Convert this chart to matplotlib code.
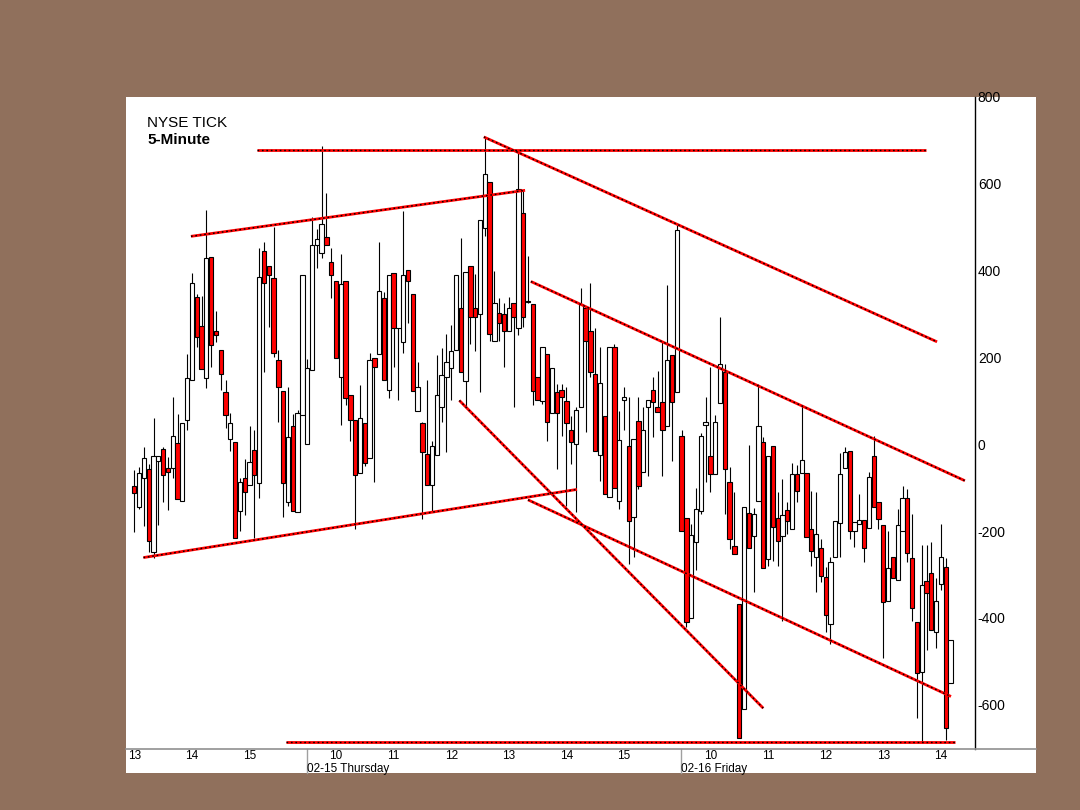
import matplotlib
matplotlib.use('Agg')
import matplotlib.pyplot as plt
from matplotlib.patches import Rectangle
from matplotlib.lines import Line2D
import numpy as np

# ---- data: 5-minute NYSE TICK bars (Wed 13:00 -> Fri ~14:10) ----
opens = [
    -97, -145, -78, -57, -248, -39, -11, -55, -55, 2, -131, 55, 149, 340, 272, 152, 432, 262,
    218, 120, 11, 5, -154, -78, -94, -14, -90, 446, 411, 384, 195, 122, -133, 41, -156, 67,
    0, 170, 460, 441, 478, 421, 375, 154, 375, 113, 55, -67, 48, -32, 198, 209, 338, 126,
    395, 267, 235, 402, 347, 76, 48, -23, -94, -25, 85, 156, 175, 218, 313, 145, 411, 315,
    299, 499, 605, 239, 303, 299, 262, 326, 267, 533, 329, 324, 156, 99, 209, 72, 120, 124,
    99, 32, 0, 87, 313, 260, 163, -25, 64, -122, 225, -131, 103, -5, -168, 53, -64, 85,
    124, 85, 97, 41, 205, 120,
    18, -170, -400, -225, -153, 44, -28, -69, 94, 166, -87, -234, -368, -611, -159, -211, -131, 5,
    -264, -5, -170, -211, -152, -195, -69, -67, -67, -195, -260, -239, -306, -414, -260, -182, -55, -16,
    -200, -184, -175, -193, -28, -133, -186, -361, -260, -313, -200, -124, -262, -409, -524, -316, -296, -433,
    -321, -283, -550,
]
highs = [
    -60, -53, -7, -46, 60, -28, -7, -30, 108, 69, 48, 207, 395, 347, 342, 540, 432, 308,
    218, 149, 71, 5, -78, -34, 41, 32, 453, 467, 411, 501, 218, 122, 133, 69, 80, 389,
    196, 524, 497, 687, 579, 453, 375, 439, 375, 113, 55, 136, 48, 211, 198, 467, 350, 391,
    395, 269, 538, 402, 347, 189, 51, 149, 7, 205, 221, 253, 274, 391, 476, 398, 411, 393,
    517, 708, 605, 400, 338, 326, 340, 326, 676, 586, 434, 324, 156, 223, 209, 176, 138, 138,
    131, 64, 87, 361, 313, 372, 267, 225, 64, 225, 232, 76, 131, 108, 11, 108, 85, 103,
    154, 168, 239, 366, 205, 506,
    34, -170, -184, -100, 25, 110, 177, 67, 294, 184, -53, -110, -368, -145, -2, -147, 138, 16,
    -28, -5, -110, -80, -133, -44, -48, 90, -67, -108, -110, -218, -283, -260, -177, -21, -7, -16,
    -179, -115, -175, -64, 18, -133, -186, -200, -260, -149, -97, -103, -160, -409, -231, -231, -226, -308,
    -183, -262, -450,
]
lows = [
    -202, -150, -189, -248, -262, -186, -133, -152, -78, -126, -131, 32, 149, 225, 173, 129, 177, 235,
    124, 37, -16, -216, -200, -163, -94, -216, -124, 166, 271, 202, 51, -168, -142, -154, -156, 67,
    0, 170, 405, 430, 460, 338, 198, 44, 90, 7, -195, -67, -50, -32, -87, 209, 149, 106,
    179, 103, 211, 280, 122, 76, -172, -94, -156, -25, 51, -18, 103, 218, 166, 87, 230, 214,
    120, 480, 239, 239, 237, 179, 262, 87, 251, 271, 326, 90, 103, 93, 7, 72, -57, 18,
    -143, -46, -156, 87, 28, 156, -16, -85, -115, -122, -101, -149, 34, -276, -260, -103, -64, -74,
    16, 74, -74, 41, -39, 120,
    -200, -421, -400, -290, -160, -87, -110, -69, 94, -161, -241, -253, -676, -611, -239, -340, -131, -285,
    -280, -269, -280, -407, -207, -195, -133, -67, -214, -280, -340, -317, -432, -460, -260, -260, -55, -218,
    -237, -184, -271, -193, -145, -195, -492, -361, -308, -313, -200, -271, -408, -630, -685, -473, -427, -469,
    -335, -681, -550,
]
closes = [
    -113, -67, -32, -223, -28, -28, -71, -64, 18, -126, 48, 152, 372, 248, 173, 428, 228, 251,
    163, 67, 48, -216, -87, -110, -41, -71, 386, 372, 391, 211, 133, -90, 16, -154, 71, 389,
    175, 460, 474, 508, 460, 391, 198, 370, 106, 55, -71, 60, -44, 193, 179, 352, 149, 389,
    267, 269, 389, 375, 122, 131, -18, -94, -5, 113, 159, 189, 216, 391, 166, 398, 294, 294,
    517, 623, 253, 326, 280, 262, 313, 294, 589, 294, 327, 122, 103, 223, 51, 176, 73, 110,
    48, 5, 80, 322, 237, 166, -16, 140, -115, 225, -101, 9, 108, -177, 11, -97, 34, 103,
    97, 74, 34, 195, 97, 494,
    -200, -409, -209, -148, 20, 51, -69, 51, 186, -57, -218, -253, -676, -145, -239, -161, 41, -285,
    -28, -191, -223, -163, -177, -69, -108, -37, -214, -246, -207, -303, -393, -271, -177, -69, -18, -200,
    -179, -175, -239, -76, -145, -172, -363, -285, -308, -186, -124, -251, -377, -528, -324, -342, -427, -361,
    -259, -654, -450,
]

hour_labels = ['13', '14', '15', '10', '11', '12', '13', '14', '15', '10', '11', '12', '13', '14']
hour_bars = [0, 12, 24, 42, 54, 66, 78, 90, 102, 120, 132, 144, 156, 168]
day_labels = ['02-15 Thursday', '02-16 Friday']
day_bars = [36, 114]
y_ticks = [-600, -400, -200, 0, 200, 400, 600, 800]

# trend lines: (bar0, value0, bar1, value1)
trend_lines = [
    (25.5, 677, 164.9, 677),
    (31.6, -685, 171.0, -685),
    (11.8, 479, 81.4, 585),
    (1.9, -261, 92.2, -104),
    (72.8, 708, 167.2, 236),
    (82.6, 375, 173.0, -84),
    (82.0, -128, 170.1, -581),
    (67.7, 101, 131.0, -608),
]

# ---- figure ----
W, H = 1080, 810
fig = plt.figure(figsize=(10.8, 8.1), dpi=100, facecolor='#90705C')
fig.patches.append(Rectangle((126 / W, 1 - 773 / H), (1036 - 126) / W, (773 - 97) / H,
                             transform=fig.transFigure, facecolor='white',
                             edgecolor='none', zorder=-1))
ax = fig.add_axes([126 / W, 1 - 749 / H, (975 - 126) / W, (749 - 97) / H])
ax.set_facecolor('white')
ax.set_xlim(-1.73, 175.1)
ax.set_ylim(-702, 800)

idx = np.arange(len(opens))
o = np.array(opens, float)
c = np.array(closes, float)
ax.vlines(idx, lows, highs, colors='black', linewidth=0.8, zorder=2)
bottoms = np.minimum(o, c)
heights = np.abs(c - o)
fills = ['#FF0000' if cc < oo else 'white' for oo, cc in zip(o, c)]
ax.bar(idx, heights, bottom=bottoms, width=0.9, color=fills, edgecolor='black',
       linewidth=0.8, zorder=3)

for x0, v0, x1, v1 in trend_lines:
    ax.plot([x0, x1], [v0, v1], color='#FF0000', linewidth=2.0, zorder=4,
            solid_capstyle='butt')
    ax.plot([x0, x1], [v0, v1], color='black', linewidth=1.0, dashes=(1.2, 2.0),
            zorder=5)

# spines
for s in ['top', 'left', 'bottom']:
    ax.spines[s].set_visible(False)
ax.spines['right'].set_color('black')
ax.spines['right'].set_linewidth(1.0)

fig.add_artist(Line2D([126 / W, 1036 / W], [1 - 749 / H, 1 - 749 / H],
                      transform=fig.transFigure, color='#909090', linewidth=1.2))

fnt = 'Liberation Sans'
ax.yaxis.tick_right()
ax.set_yticks(y_ticks)
ax.set_yticklabels([str(v) for v in y_ticks], fontsize=10, family=fnt)
ax.tick_params(axis='y', length=0, pad=2)

ax.set_xticks(hour_bars)
ax.set_xticklabels(hour_labels, fontsize=8.5, family=fnt)
ax.tick_params(axis='x', length=0, pad=0.5)

tr = ax.get_xaxis_transform()
for lab, b in zip(day_labels, day_bars):
    ax.plot([b - 0.1, b - 0.1], [0, -0.037], transform=tr, color='#A0A0A0',
            linewidth=1.0, clip_on=False)
    ax.text(b - 0.1, -(775 - 749) / 652, lab, transform=tr, ha='left', va='bottom',
            fontsize=8.5, family=fnt, clip_on=False)

fig.text(147 / W, 1 - 127 / H, 'NYSE TICK', fontsize=11, family=fnt,
         ha='left', va='baseline')
fig.text(147 / W, 1 - 144 / H, '5-Minute', fontsize=11, family=fnt,
         fontweight='bold', ha='left', va='baseline')

fig.savefig('out.png', dpi=100, facecolor=fig.get_facecolor())
